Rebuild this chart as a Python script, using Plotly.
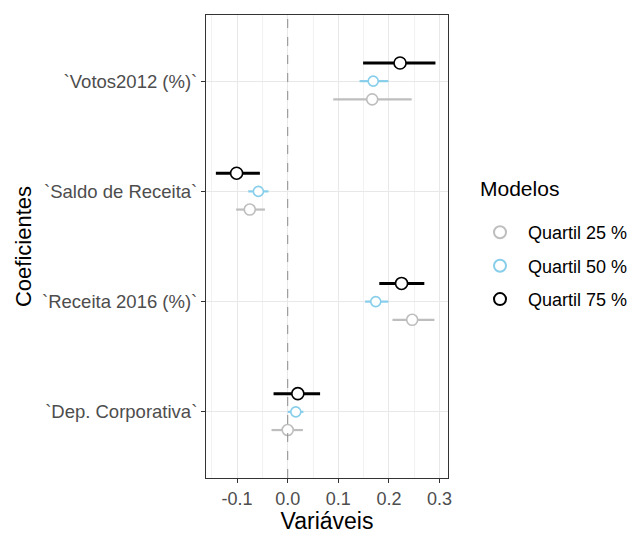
import plotly.graph_objects as go

terms = ["`Dep. Corporativa`", "`Receita 2016 (%)`", "`Saldo de Receita`", "`Votos2012 (%)`"]
models = ["Quartil 25 %", "Quartil 50 %", "Quartil 75 %"]
legend_title = "Modelos"

# estimates and CI bounds per model, in order of terms
est = {
    "Quartil 25 %": [0.000, 0.246, -0.075, 0.167],
    "Quartil 50 %": [0.016, 0.174, -0.058, 0.169],
    "Quartil 75 %": [0.020, 0.225, -0.101, 0.222],
}
lo = {
    "Quartil 25 %": [-0.032, 0.207, -0.102, 0.090],
    "Quartil 50 %": [0.000, 0.153, -0.078, 0.142],
    "Quartil 75 %": [-0.028, 0.181, -0.142, 0.149],
}
hi = {
    "Quartil 25 %": [0.030, 0.290, -0.045, 0.245],
    "Quartil 50 %": [0.031, 0.199, -0.038, 0.199],
    "Quartil 75 %": [0.064, 0.270, -0.055, 0.292],
}
x_ticks = [-0.1, 0.0, 0.1, 0.2, 0.3]
x_tick_labels = ["-0.1", "0.0", "0.1", "0.2", "0.3"]

colors = {"Quartil 25 %": "#BEBEBE", "Quartil 50 %": "#87CEEB", "Quartil 75 %": "#000000"}
offsets = {"Quartil 25 %": -0.165, "Quartil 50 %": 0.0, "Quartil 75 %": 0.165}
widths = {"Quartil 25 %": 2.2, "Quartil 50 %": 2.2, "Quartil 75 %": 3}
msize = {"Quartil 25 %": 11, "Quartil 50 %": 10, "Quartil 75 %": 12}

fig = go.Figure()
for m in models:
    ys = [i + 1 + offsets[m] for i in range(len(terms))]
    fig.add_trace(go.Scatter(
        x=est[m], y=ys, mode="markers", name=m,
        marker=dict(symbol="circle", size=msize[m], color="white",
                    line=dict(color=colors[m], width=1.6)),
        error_x=dict(type="data", symmetric=False,
                     array=[h - e for h, e in zip(hi[m], est[m])],
                     arrayminus=[e - l for e, l in zip(est[m], lo[m])],
                     color=colors[m], thickness=widths[m], width=0),
        legendgroup=m,
    ))

fig.add_vline(x=0, line=dict(color="#8C8C8C", width=1, dash="dash"))

fig.add_annotation(
    text=legend_title, xref="paper", yref="paper", x=1.124, y=0.6263,
    xanchor="left", yanchor="middle", showarrow=False,
    font=dict(size=21, color="#000000"),
)

fig.update_layout(
    width=630, height=534,
    margin=dict(l=206, r=182, t=15, b=56, autoexpand=False),
    paper_bgcolor="white", plot_bgcolor="white",
    font=dict(family="Liberation Sans, Arial, sans-serif", color="#000000"),
    showlegend=True,
    legend=dict(
        font=dict(size=18, color="#000000"),
        x=1.0992, xanchor="left", y=0.570, yanchor="top",
        tracegroupgap=7, itemwidth=46, itemsizing="constant",
        bgcolor="rgba(0,0,0,0)",
    ),
    xaxis=dict(
        range=[-0.1615, 0.3168], tickvals=x_ticks, ticktext=x_tick_labels,
        ticks="outside", ticklen=4, tickcolor="#333333", tickwidth=1,
        tickfont=dict(size=18, color="#4D4D4D"),
        showgrid=True, gridcolor="#E8E8E8", gridwidth=1,
        minor=dict(dtick=0.05, tick0=-0.15, showgrid=True, gridcolor="#F2F2F2", gridwidth=0.6),
        zeroline=False, showline=True, linecolor="#333333", linewidth=1, mirror=True,
        title=dict(text="Variáveis", font=dict(size=23, color="#000000"), standoff=3),
        automargin=False,
    ),
    yaxis=dict(
        range=[0.4, 4.6], tickvals=[1, 2, 3, 4], ticktext=terms,
        ticks="outside", ticklen=4, tickcolor="#333333", tickwidth=1,
        tickfont=dict(size=18.5, color="#4D4D4D"),
        showgrid=True, gridcolor="#E8E8E8", gridwidth=1,
        zeroline=False, showline=True, linecolor="#333333", linewidth=1, mirror=True,
        title=dict(text="Coeficientes", font=dict(size=22, color="#000000"), standoff=4),
        automargin=False,
    ),
)

fig.write_html("out.html", config={"displayModeBar": False},
               post_script="document.body.style.margin='0';")
